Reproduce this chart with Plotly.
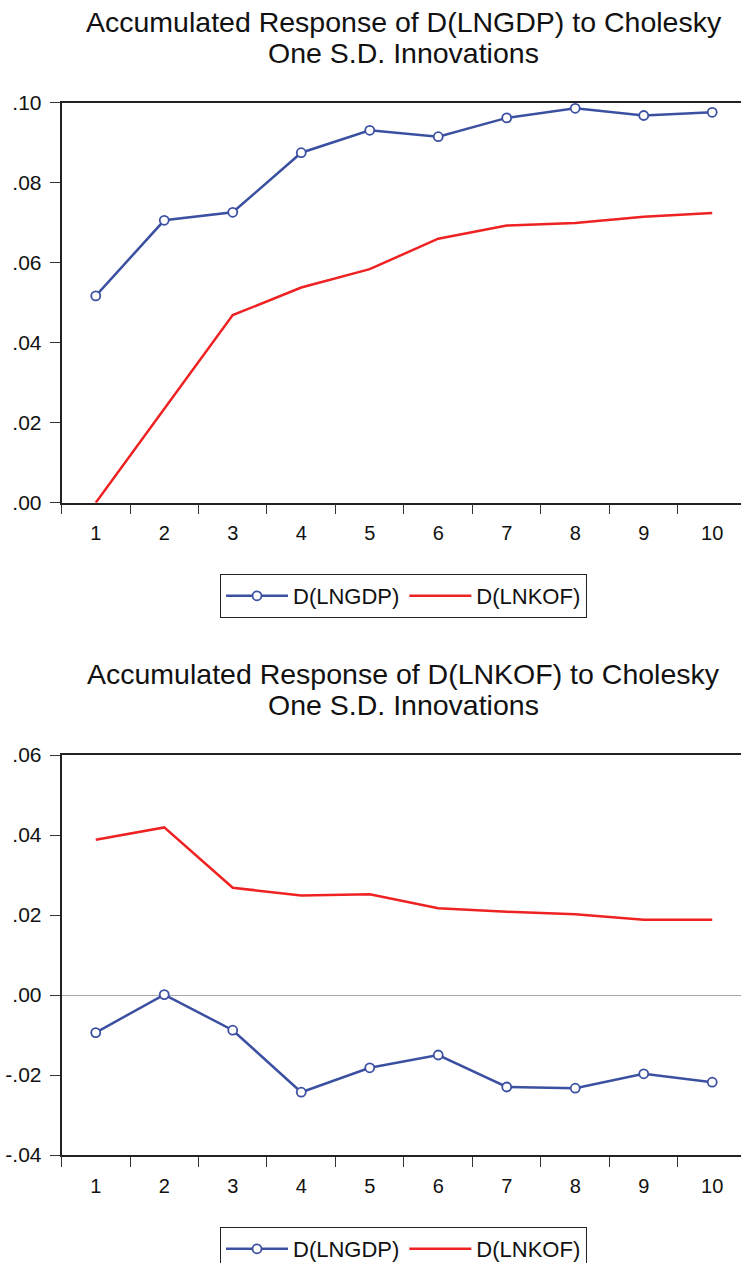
import plotly.graph_objects as go

W, H = 741, 1263

periods = [1, 2, 3, 4, 5, 6, 7, 8, 9, 10]

# Top panel: Accumulated response of D(LNGDP)
top_lngdp = [0.0517, 0.0706, 0.0726, 0.0875, 0.0931, 0.0915, 0.0962, 0.0986, 0.0968, 0.0976]
top_lnkof = [0.0000, 0.0235, 0.0469, 0.0538, 0.0584, 0.0660, 0.0693, 0.0699, 0.0715, 0.0724]

# Bottom panel: Accumulated response of D(LNKOF)
bot_lngdp = [-0.0094, 0.0001, -0.0088, -0.0243, -0.0182, -0.0150, -0.0230, -0.0233, -0.0197, -0.0218]
bot_lnkof = [0.0388, 0.0419, 0.0268, 0.0249, 0.0252, 0.0217, 0.0208, 0.0202, 0.0188, 0.0188]

top_yticks = [0.0, 0.02, 0.04, 0.06, 0.08, 0.10]
top_ylabels = [".00", ".02", ".04", ".06", ".08", ".10"]
bot_yticks = [-0.04, -0.02, 0.0, 0.02, 0.04, 0.06]
bot_ylabels = ["-.04", "-.02", ".00", ".02", ".04", ".06"]

title_top = ["Accumulated Response of D(LNGDP) to Cholesky", "One S.D. Innovations"]
title_bot = ["Accumulated Response of D(LNKOF) to Cholesky", "One S.D. Innovations"]

BLUE = "#3C50A2"
RED = "#EE2222"
FONT = "Liberation Sans, Arial, sans-serif"

def py(px):
    return 1 - px / H

def px_x(px):
    return px / W

fig = go.Figure()

for (g, k, xa, ya, lg) in [(top_lngdp, top_lnkof, "x", "y", "legend"),
                           (bot_lngdp, bot_lnkof, "x2", "y2", "legend2")]:
    fig.add_trace(go.Scatter(
        x=periods, y=g, xaxis=xa, yaxis=ya, name="D(LNGDP)", legend=lg,
        mode="lines+markers",
        line=dict(color=BLUE, width=2.5),
        marker=dict(symbol="circle", size=9, color="white", line=dict(color=BLUE, width=1.8)),
        cliponaxis=False,
    ))
    fig.add_trace(go.Scatter(
        x=periods, y=k, xaxis=xa, yaxis=ya, name="D(LNKOF)", legend=lg,
        mode="lines",
        line=dict(color=RED, width=2.5),
    ))

x_dom = [px_x(61.5), 1.0]
xrange = [0.5, 10.42]
minor_vals = [i + 0.5 for i in range(10)]

def xaxis_cfg(anchor):
    return dict(
        domain=x_dom, range=xrange, anchor=anchor, automargin=False,
        tickvals=periods, ticktext=[str(p) for p in periods],
        ticks="outside", ticklen=10, tickcolor="rgba(0,0,0,0)",
        ticklabelstandoff=2,
        tickfont=dict(family=FONT, size=20, color="#111"),
        showline=True, linecolor="#222", linewidth=1.5, mirror=True,
        showgrid=False, zeroline=False,
        minor=dict(tickvals=minor_vals, ticks="outside", ticklen=10,
                   tickcolor="#333", tickwidth=1, showgrid=False),
    )

def yaxis_cfg(anchor, dom, rng, tv, tt, zl):
    return dict(
        domain=dom, range=rng, anchor=anchor, automargin=False,
        tickvals=tv, ticktext=tt,
        ticks="outside", ticklen=10, tickcolor="#333", tickwidth=1,
        ticklabelstandoff=4,
        tickfont=dict(family=FONT, size=21, color="#111"),
        showline=True, linecolor="#222", linewidth=1.5,
        showgrid=False,
        zeroline=zl, zerolinecolor="#A8A8A8", zerolinewidth=1.2,
    )

legend_common = dict(
    orientation="h", x=403.5 / W, xanchor="center", yanchor="top",
    bordercolor="#222", borderwidth=1, bgcolor="white",
    font=dict(family=FONT, size=22, color="#111"),
    itemwidth=62, tracegroupgap=0,
)

fig.update_layout(
    width=W, height=H,
    margin=dict(l=0, r=0, t=0, b=0, pad=0, autoexpand=False),
    paper_bgcolor="white", plot_bgcolor="white",
    font=dict(family=FONT, color="#111"),
    xaxis=xaxis_cfg("y"),
    yaxis=yaxis_cfg("x", [py(502.7), py(102.7)], [0.0, 0.10], top_yticks, top_ylabels, False),
    xaxis2=xaxis_cfg("y2"),
    yaxis2=yaxis_cfg("x2", [py(1155), py(755)], [-0.04, 0.06], bot_yticks, bot_ylabels, True),
    legend=dict(legend_common, y=py(574)),
    legend2=dict(legend_common, y=py(1227)),
    showlegend=True,
)

annotations = []
for lines, base in [(title_top, 32), (title_bot, 684)]:
    for i, txt in enumerate(lines):
        annotations.append(dict(
            text=txt, xref="paper", yref="paper",
            x=403.5 / W, xanchor="center",
            y=py(base + 31 * i - 10), yanchor="middle",
            showarrow=False,
            font=dict(family=FONT, size=28.5, color="#111"),
        ))
fig.update_layout(annotations=annotations)

fig.write_html(
    "out.html",
    config={"displayModeBar": False},
    post_script="document.body.style.margin='0';document.body.style.overflow='hidden';",
)
